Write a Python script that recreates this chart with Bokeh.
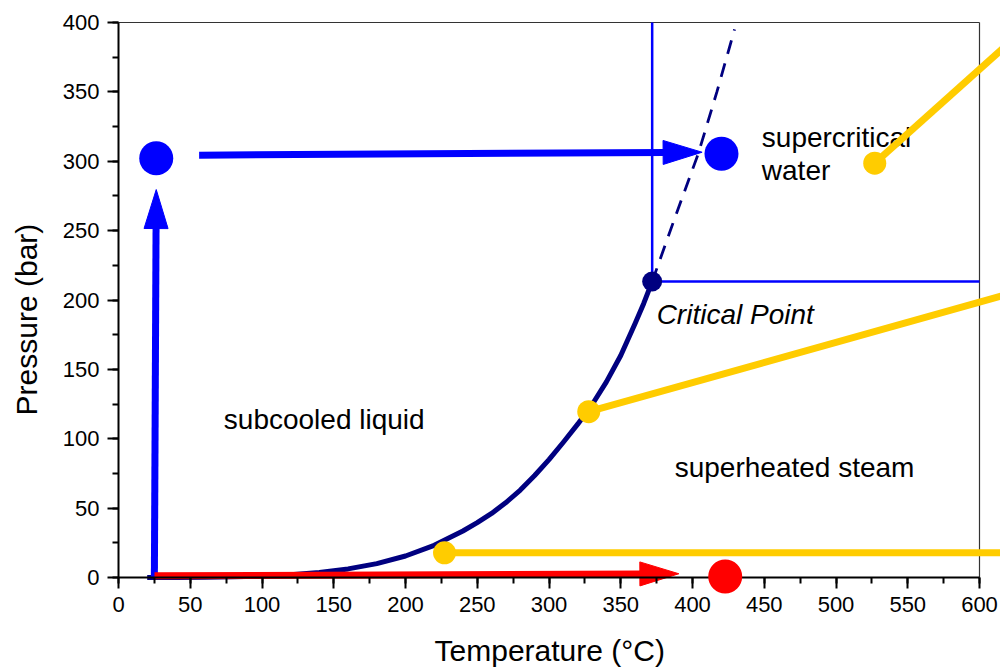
import math
from bokeh.plotting import figure
from bokeh.models import Range1d, SingleIntervalTicker
from bokeh.core.properties import value
from bokeh.embed import file_html
from bokeh.resources import INLINE

# ---------------- data ----------------
# saturation (boiling) curve of water
sat_T = [20, 40, 60, 80, 100, 120, 140, 160, 180, 200, 220, 240, 250, 260, 270,
         280, 290, 300, 310, 320, 330, 340, 350, 360, 366, 371.9]
sat_P = [0.02, 0.07, 0.2, 0.47, 1.0, 2.0, 3.6, 6.2, 10.0, 15.5, 23.2, 33.5, 39.5,
         46.2, 54.0, 63.0, 73.5, 85.0, 97.5, 110.5, 124.5, 141.0, 160.0, 183.0,
         197.5, 213.3]
# dashed continuation above the critical point
ext_T = [371.9, 388.0, 404.0, 417.0, 429.3]
ext_P = [213.3, 260.0, 305.4, 350.0, 395.0]
# critical point
crit_T = [371.9]
crit_P = [213.3]
# blue thin guide lines from the critical point
guide_v_T = [371.9, 371.9]
guide_v_P = [213.3, 400.0]
guide_h_T = [371.9, 600.0]
guide_h_P = [213.3, 213.3]
# yellow paths (start point on the diagram, leaving to the right)
yellow_T = [[227.2, 650.0], [327.7, 650.0], [527.0, 650.0]]
yellow_P = [[17.8, 17.8], [119.5, 213.0], [298.6, 412.5]]
yellow_dot_T = [227.2, 327.7, 527.0]
yellow_dot_P = [17.8, 119.5, 298.6]
# blue and red state points
blue_dot_T = [26.3, 420.2]
blue_dot_P = [302.2, 305.4]
red_dot_T = [422.8]
red_dot_P = [0.7]
# arrows: (T start, P start, T end, P end)
blue_arrows = [(25.0, 0.0, 26.3, 279.6), (56.2, 304.4, 406.7, 306.5)]
red_arrows = [(25.1, 1.2, 390.5, 2.7)]
# region labels
region_text = ["subcooled liquid", "superheated steam", "supercritical", "water"]
region_T = [73.4, 387.6, 448.3, 448.3]
region_P = [113.7, 79.3, 317.3, 293.3]
crit_label = ["Critical Point"]
crit_label_T = [375.0]
crit_label_P = [189.8]
# axis titles and where they sit
x_label = ["Temperature (°C)"]
x_label_T = [300.5]
x_label_P = [-52.9]
y_label = ["Pressure (bar)"]
y_label_T = [-64.3]
y_label_P = [185.9]
x_bounds = (0, 600)
y_bounds = (0, 400)
tick_step = 50

# ---------------- layout ----------------
W, H = 1000, 668
LEFT_PX, TOP_PX = 118, 22          # where T = 0 and P = 400 sit on the page
PX_X = 861 / 600.0
PX_Y = 555 / 400.0
x_range = Range1d(-LEFT_PX / PX_X, (W - LEFT_PX) / PX_X)
y_range = Range1d(400 - (H - TOP_PX) / PX_Y, 400 + TOP_PX / PX_Y)

FONT = "Liberation Sans"
BLUE = "#0000FF"
RED = "#FF0000"
YELLOW = "#FFCC00"
NAVY = "#000080"

p = figure(width=W, height=H, frame_width=W, frame_height=H,
           x_range=x_range, y_range=y_range,
           output_backend="svg", toolbar_location=None, title=None,
           min_border=0, min_border_left=0, min_border_right=0,
           min_border_top=0, min_border_bottom=0)
p.outline_line_color = None
p.xgrid.visible = False
p.ygrid.visible = False
p.background_fill_color = "white"
p.border_fill_color = "white"


def style_axis(ax, bounds, standoff):
    ax.bounds = bounds
    ax.fixed_location = 0
    ax.ticker = SingleIntervalTicker(interval=tick_step, num_minor_ticks=2)
    ax.axis_line_color = "black"
    ax.axis_line_width = 2
    ax.major_tick_line_color = "black"
    ax.major_tick_line_width = 2
    ax.minor_tick_line_color = "black"
    ax.minor_tick_line_width = 2
    ax.major_tick_out = 11
    ax.major_tick_in = 0
    ax.minor_tick_out = 6
    ax.minor_tick_in = 0
    ax.major_label_text_font = FONT
    ax.major_label_text_font_size = "22px"
    ax.major_label_text_color = "black"
    ax.major_label_standoff = standoff


style_axis(p.xaxis[0], x_bounds, 8)
style_axis(p.yaxis[0], y_bounds, 8)

# frame border (top and right)
p.line([x_bounds[0], x_bounds[1]], [y_bounds[1], y_bounds[1]],
       line_color="#333333", line_width=1.2)
p.line([x_bounds[1], x_bounds[1]], [y_bounds[0], y_bounds[1]],
       line_color="#333333", line_width=1.2)

# guides
p.line(guide_v_T, guide_v_P, line_color=BLUE, line_width=2.5)
p.line(guide_h_T, guide_h_P, line_color=BLUE, line_width=2.5)
p.line(ext_T, ext_P, line_color=NAVY, line_width=2.8, line_dash="14 10")
p.line(sat_T, sat_P, line_color=NAVY, line_width=5, line_join="round")
p.scatter(crit_T, crit_P, size=20, fill_color=NAVY, line_color=None)

# texts
p.text(region_T, region_P, text=region_text, text_font=value(FONT),
       text_font_size=value("28px"), text_color="black",
       text_align="left", text_baseline="alphabetic")
p.text(crit_label_T, crit_label_P, text=crit_label, text_font=value(FONT),
       text_font_size=value("28px"), text_font_style="italic", text_color="black",
       text_align="left", text_baseline="alphabetic")

# axis titles
p.text(x_label_T, x_label_P, text=x_label, text_font=value(FONT),
       text_font_size=value("30px"), text_color="black",
       text_align="center", text_baseline="alphabetic")
p.text(y_label_T, y_label_P, text=y_label, text_font=value(FONT),
       text_font_size=value("30px"), text_color="black", angle=math.pi / 2,
       text_align="center", text_baseline="alphabetic")


def arrow(arr, color, shaft_w=7, head_len=39, head_w=24):
    x0, y0, x1, y1 = arr
    dxp = (x1 - x0) * PX_X
    dyp = (y1 - y0) * PX_Y
    L = math.hypot(dxp, dyp)
    ux, uy = dxp / L, dyp / L
    bxp = x1 * PX_X - ux * head_len
    byp = y1 * PX_Y - uy * head_len
    nx, ny = -uy * head_w / 2, ux * head_w / 2
    hx = [x1, (bxp + nx) / PX_X, (bxp - nx) / PX_X]
    hy = [y1, (byp + ny) / PX_Y, (byp - ny) / PX_Y]
    p.line([x0, (bxp + ux * 2) / PX_X], [y0, (byp + uy * 2) / PX_Y],
           line_color=color, line_width=shaft_w, line_cap="butt")
    p.patch(hx, hy, fill_color=color, line_color=color, line_width=1)


for a in blue_arrows:
    arrow(a, BLUE)
for a in red_arrows:
    arrow(a, RED)

p.scatter(blue_dot_T, blue_dot_P, size=34, fill_color=BLUE, line_color=None)
p.scatter(red_dot_T, red_dot_P, size=34, fill_color=RED, line_color=None,
          level="overlay")

p.multi_line(yellow_T, yellow_P, line_color=YELLOW, line_width=7)
p.scatter(yellow_dot_T, yellow_dot_P, size=23, fill_color=YELLOW, line_color=None)

open("out.html", "w").write(file_html(p, INLINE))
